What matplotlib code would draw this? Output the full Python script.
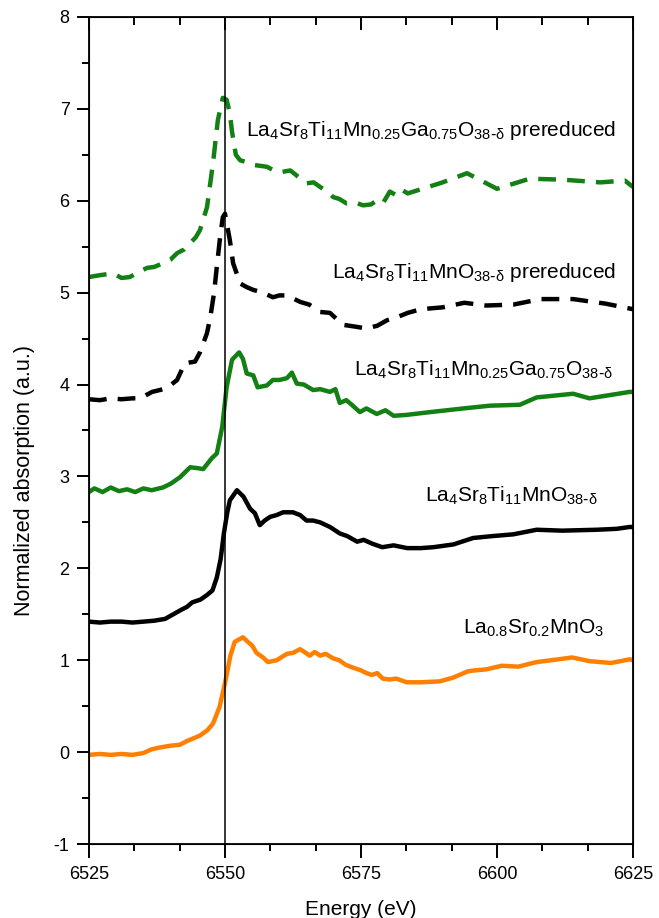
import matplotlib
matplotlib.use("Agg")
import matplotlib.pyplot as plt
from matplotlib.ticker import MultipleLocator

plt.rcParams['font.family'] = ['Liberation Sans', 'DejaVu Sans']
plt.rcParams['mathtext.default'] = 'regular'
plt.rcParams['axes.unicode_minus'] = False

# La0.8Sr0.2MnO3
lsm_e = [6525, 6527, 6529, 6531, 6533, 6535, 6536.5, 6538, 6540, 6541.7, 6543, 6545.4,
         6546.8, 6547.8, 6549, 6550, 6551, 6551.8, 6553.3, 6554.2, 6555, 6555.8, 6557,
         6557.9, 6559.5, 6561.4, 6562.5, 6563.8, 6564.6, 6565.6, 6566.5, 6567.5, 6568.5,
         6569.9, 6571, 6572.2, 6573.5, 6575, 6576, 6577, 6578, 6579, 6580.3, 6581.5,
         6583.4, 6586, 6589.5, 6591.9, 6594.7, 6596, 6598, 6600.9, 6603.9, 6607.3, 6610,
         6613.8, 6617, 6621, 6624.4, 6625]
lsm_mu = [-0.03, -0.02, -0.03, -0.02, -0.03, -0.01, 0.03, 0.05, 0.07, 0.08, 0.12, 0.18,
          0.24, 0.31, 0.49, 0.75, 1.05, 1.2, 1.25, 1.2, 1.16, 1.08, 1.03,
          0.98, 1.0, 1.07, 1.08, 1.12, 1.09, 1.05, 1.09, 1.05, 1.07,
          1.02, 1.0, 0.95, 0.92, 0.89, 0.86, 0.84, 0.86, 0.8, 0.79, 0.8,
          0.76, 0.76, 0.77, 0.81, 0.88, 0.89, 0.9, 0.94, 0.93, 0.98, 1.0,
          1.03, 0.99, 0.97, 1.01, 1.0]

# La4Sr8Ti11MnO38-d
lstm_e = [6525, 6527, 6529, 6531, 6533, 6535, 6537, 6539, 6540.5, 6542, 6543, 6544, 6545.5,
          6546.7, 6547.7, 6548.5, 6549.2, 6549.8, 6550.4, 6550.9, 6552.2, 6553.4, 6554.6,
          6555.5, 6556.4, 6557.3, 6558.3, 6559.5, 6560.7, 6562.5, 6563.8, 6565, 6566.2,
          6567.5, 6569.3, 6571.1, 6572.5, 6574.3, 6575.5, 6577, 6578.9, 6581, 6583.5,
          6586, 6588.3, 6592, 6595.6, 6599, 6603, 6607.3, 6612, 6618.4, 6622, 6624.4, 6625]
lstm_mu = [1.42, 1.41, 1.42, 1.42, 1.41, 1.42, 1.43, 1.45, 1.5, 1.55, 1.58, 1.63, 1.66,
           1.71, 1.76, 1.9, 2.1, 2.38, 2.6, 2.74, 2.85, 2.78, 2.65,
           2.6, 2.47, 2.52, 2.56, 2.58, 2.61, 2.61, 2.58, 2.52, 2.52,
           2.5, 2.45, 2.38, 2.35, 2.29, 2.31, 2.27, 2.23, 2.25, 2.22,
           2.22, 2.23, 2.26, 2.33, 2.35, 2.37, 2.42, 2.41, 2.42, 2.43, 2.45, 2.45]

# La4Sr8Ti11Mn0.25Ga0.75O38-d
lstmg_e = [6525, 6526, 6527.5, 6529, 6530.5, 6532, 6533.5, 6535, 6536.5, 6538.6, 6540,
           6541.7, 6543.6, 6545, 6546, 6547.6, 6548.5, 6549.5, 6550.3, 6551.3, 6552.6,
           6553.3, 6554, 6555.2, 6556, 6557.7, 6558.8, 6560, 6561.4, 6562.3, 6563.2,
           6564.5, 6566.2, 6567.5, 6569.3, 6570.3, 6571.1, 6572.3, 6573.5, 6574.8, 6576,
           6577.9, 6579.5, 6581, 6583.4, 6587.7, 6593.8, 6598.7, 6604.2, 6607.3, 6614,
           6617, 6624.4, 6625]
lstmg_mu = [2.83, 2.87, 2.83, 2.88, 2.84, 2.86, 2.83, 2.87, 2.85, 2.88, 2.92,
            2.99, 3.1, 3.09, 3.08, 3.2, 3.25, 3.54, 3.97, 4.27, 4.35,
            4.28, 4.12, 4.1, 3.97, 3.99, 4.05, 4.05, 4.07, 4.13, 4.01,
            4.0, 3.94, 3.95, 3.92, 3.95, 3.8, 3.83, 3.77, 3.7, 3.74,
            3.68, 3.72, 3.66, 3.67, 3.7, 3.74, 3.77, 3.78, 3.86, 3.9,
            3.85, 3.92, 3.92]

# La4Sr8Ti11MnO38-d prereduced
lstm_red_e = [6525, 6527, 6529, 6531, 6533, 6534.4, 6536.6, 6538, 6539.3, 6541.2, 6542.6,
              6543.5, 6544.5, 6545.4, 6546.7, 6547.3, 6548, 6548.5, 6549.1, 6549.6, 6550,
              6550.5, 6550.9, 6551.5, 6552.8, 6554, 6555.2, 6557, 6558.8, 6560, 6561.4,
              6563.8, 6565.5, 6567.5, 6569.3, 6571.7, 6574, 6576, 6578, 6579.8, 6581.5,
              6583.6, 6586, 6590, 6594, 6598, 6603, 6608, 6614, 6620, 6625]
lstm_red_mu = [3.84, 3.83, 3.85, 3.84, 3.85, 3.85, 3.92, 3.94, 3.96, 4.05, 4.23,
               4.24, 4.25, 4.35, 4.56, 4.73, 5.0, 5.28, 5.6, 5.82, 5.86,
               5.7, 5.57, 5.32, 5.1, 5.06, 5.03, 5.0, 4.95, 4.97, 4.97,
               4.9, 4.87, 4.79, 4.78, 4.65, 4.63, 4.61, 4.64, 4.7, 4.73,
               4.78, 4.82, 4.84, 4.89, 4.86, 4.87, 4.93, 4.93, 4.88, 4.82]

# La4Sr8Ti11Mn0.25Ga0.75O38-d prereduced
lstmg_red_e = [6525, 6527, 6529.4, 6531, 6532.5, 6534, 6535.7, 6537, 6538.6, 6540, 6541.2,
               6542.5, 6543.6, 6544.6, 6545.4, 6546.7, 6547.8, 6548.7, 6549.6, 6550.3,
               6550.9, 6551.3, 6552, 6552.8, 6554, 6555.2, 6556.5, 6557.7, 6559, 6560.1,
               6562, 6563.5, 6565, 6566.3, 6567.5, 6568.8, 6569.9, 6571, 6572.4, 6574,
               6575.4, 6576.8, 6577.9, 6579, 6580.3, 6581.5, 6582.5, 6583.6, 6590, 6594.5,
               6600, 6606, 6612, 6619, 6623.5, 6625]
lstmg_red_mu = [5.17, 5.19, 5.21, 5.16, 5.17, 5.22, 5.27, 5.28, 5.32, 5.36, 5.43,
                5.47, 5.54, 5.6, 5.68, 5.93, 6.41, 6.88, 7.12, 7.1,
                6.95, 6.75, 6.5, 6.44, 6.42, 6.39, 6.38, 6.37, 6.33, 6.31,
                6.33, 6.26, 6.19, 6.2, 6.15, 6.1, 6.04, 6.02, 5.97, 5.98,
                5.95, 5.96, 6.0, 5.97, 6.1, 6.06, 6.12, 6.08, 6.2, 6.3,
                6.13, 6.24, 6.23, 6.2, 6.22, 6.15]

labels = [r'La$_{4}$Sr$_{8}$Ti$_{11}$Mn$_{0.25}$Ga$_{0.75}$O$_{38\text{-}δ}$ prereduced',
          r'La$_{4}$Sr$_{8}$Ti$_{11}$MnO$_{38\text{-}δ}$ prereduced',
          r'La$_{4}$Sr$_{8}$Ti$_{11}$Mn$_{0.25}$Ga$_{0.75}$O$_{38\text{-}δ}$',
          r'La$_{4}$Sr$_{8}$Ti$_{11}$MnO$_{38\text{-}δ}$',
          r'La$_{0.8}$Sr$_{0.2}$MnO$_{3}$']
label_pos = [(6621.9, 6.71), (6621.9, 5.16), (6621.3, 4.10), (6618.6, 2.72), (6619.7, 1.29)]

green = '#138013'
orange = '#ff8000'
lw = 3.2

fig = plt.figure(figsize=(6.59, 9.18), dpi=100)
ax = fig.add_axes([0.135, 0.0806, 0.8255, 0.9009])

ax.plot(lsm_e, lsm_mu, color=orange, lw=lw)
ax.plot(lstm_e, lstm_mu, color='black', lw=lw)
ax.plot(lstmg_e, lstmg_mu, color=green, lw=lw)
ax.plot(lstm_red_e, lstm_red_mu, color='black', lw=lw, dashes=(4, 2.5))
ax.plot(lstmg_red_e, lstmg_red_mu, color=green, lw=lw, dashes=(4, 2.5))
ax.axvline(6550, color='black', lw=1.1)

for txt, (x, y) in zip(labels, label_pos):
    ax.text(x, y, txt, ha='right', va='baseline', fontsize=15)

ax.set_xlim(6525, 6625)
ax.set_ylim(-1, 8)
ax.xaxis.set_major_locator(MultipleLocator(25))
ax.xaxis.set_minor_locator(MultipleLocator(25 / 3))
ax.yaxis.set_major_locator(MultipleLocator(1))
ax.yaxis.set_minor_locator(MultipleLocator(0.5))
ax.tick_params(axis='y', which='both', direction='out', width=1.4, right=False)
ax.tick_params(axis='y', which='major', length=9, pad=5, labelsize=13)
ax.tick_params(axis='y', which='minor', length=5)
ax.tick_params(axis='x', which='both', direction='out', width=1.4, top=False)
ax.tick_params(axis='x', which='major', length=10, pad=6, labelsize=13)
ax.tick_params(axis='x', which='minor', length=5)
for s in ax.spines.values():
    s.set_linewidth(1.3)

# inward ticks along the top edge
top = ax.twiny()
top.set_xlim(ax.get_xlim())
top.xaxis.set_major_locator(MultipleLocator(25))
top.xaxis.set_minor_locator(MultipleLocator(25 / 3))
top.tick_params(axis='x', which='both', direction='in', width=1.4,
                labeltop=False, top=True, bottom=False)
top.tick_params(axis='x', which='major', length=9)
top.tick_params(axis='x', which='minor', length=6)

ax.set_xlabel('Energy (eV)', fontsize=15)
ax.set_ylabel('Normalized absorption (a.u.)', fontsize=15.5)
ax.xaxis.set_label_coords(0.5, -0.068)
ax.yaxis.set_label_coords(-0.10, 0.44)

fig.savefig('out.png', dpi=100)
